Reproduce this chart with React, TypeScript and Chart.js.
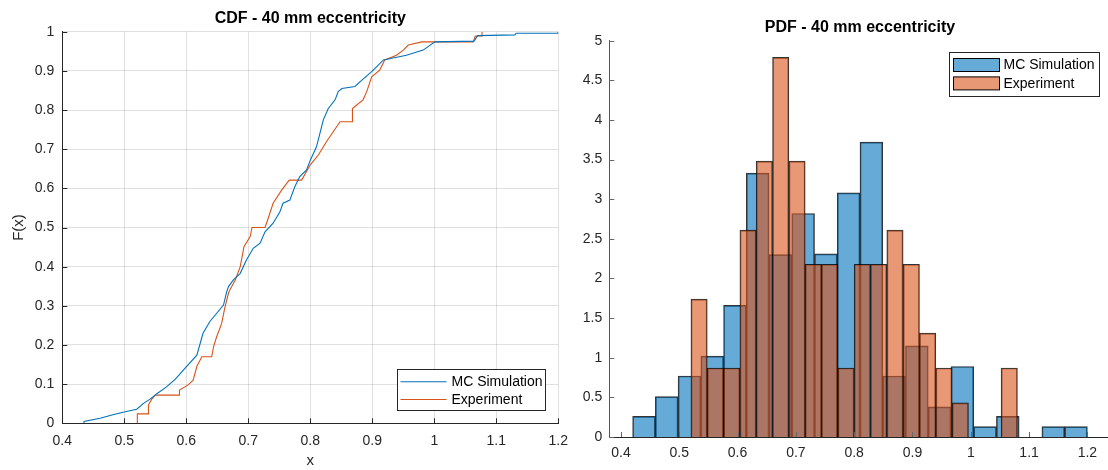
import { useEffect, useRef } from "react";
import { Chart, registerables } from "chart.js";
Chart.register(...registerables);

const FONT = "'Liberation Sans', Arial, Helvetica, sans-serif";
const BLUE = "#0072BD";
const ORANGE = "#D95319";

// ---- CDF (left) : points ----
const mcCdfX = [0.435, 0.435, 0.461, 0.48, 0.498, 0.52, 0.531, 0.541, 0.552, 0.568, 0.582, 0.601, 0.617, 0.627, 0.638, 0.649, 0.66, 0.665, 0.668, 0.676, 0.687, 0.697, 0.708, 0.719, 0.727, 0.74, 0.751, 0.756, 0.767, 0.775, 0.783, 0.794, 0.8, 0.81, 0.821, 0.829, 0.84, 0.845, 0.851, 0.872, 0.88, 0.899, 0.918, 0.955, 0.982, 1.001, 1.064, 1.07, 1.13, 1.132, 1.199, 1.2];
const mcCdfF = [0, 0.005, 0.013, 0.021, 0.028, 0.036, 0.051, 0.061, 0.075, 0.093, 0.112, 0.146, 0.174, 0.23, 0.26, 0.281, 0.302, 0.335, 0.349, 0.366, 0.383, 0.417, 0.447, 0.46, 0.489, 0.511, 0.54, 0.562, 0.57, 0.604, 0.63, 0.647, 0.672, 0.706, 0.775, 0.804, 0.826, 0.847, 0.855, 0.86, 0.872, 0.898, 0.928, 0.94, 0.953, 0.974, 0.976, 0.99, 0.992, 0.996, 0.996, 1.0];
const expCdfX = [0.521, 0.521, 0.539, 0.539, 0.544, 0.55, 0.589, 0.589, 0.603, 0.611, 0.617, 0.625, 0.641, 0.644, 0.649, 0.657, 0.662, 0.668, 0.67, 0.679, 0.687, 0.693, 0.703, 0.706, 0.727, 0.732, 0.74, 0.754, 0.766, 0.786, 0.8, 0.813, 0.826, 0.848, 0.868, 0.868, 0.885, 0.891, 0.899, 0.912, 0.92, 0.939, 0.95, 0.958, 0.98, 1.063, 1.066, 1.077, 1.077];
const expCdfF = [0, 0.024, 0.024, 0.047, 0.061, 0.072, 0.072, 0.085, 0.098, 0.11, 0.145, 0.17, 0.17, 0.196, 0.221, 0.255, 0.294, 0.332, 0.34, 0.366, 0.4, 0.451, 0.477, 0.5, 0.5, 0.523, 0.562, 0.596, 0.621, 0.621, 0.66, 0.685, 0.719, 0.77, 0.77, 0.804, 0.826, 0.847, 0.885, 0.902, 0.928, 0.94, 0.953, 0.966, 0.974, 0.974, 0.989, 0.989, 1.0];

// ---- PDF (right) : histogram bin edges and heights ----
const mcBinEdges = [0.42, 0.459, 0.498, 0.537, 0.576, 0.615, 0.654, 0.693, 0.732, 0.771, 0.81, 0.849, 0.888, 0.927, 0.966, 1.005, 1.044, 1.083, 1.122, 1.161, 1.2];
const mcPdf = [0.26, 0.51, 0.77, 1.02, 1.66, 3.33, 2.3, 2.82, 2.31, 3.08, 3.72, 0.77, 1.15, 0.38, 0.89, 0.13, 0.26, 0, 0.13, 0.13];
const expBinEdges = [0.52, 0.548, 0.576, 0.604, 0.632, 0.66, 0.688, 0.716, 0.744, 0.772, 0.8, 0.828, 0.856, 0.884, 0.912, 0.94, 0.968, 0.996, 1.024, 1.052, 1.08];
const expPdf = [1.74, 0.87, 0.87, 2.61, 3.48, 4.79, 3.48, 2.18, 2.18, 0.87, 2.18, 2.18, 2.61, 2.18, 1.31, 0.87, 0.43, 0, 0, 0.87];

const seriesNames = ["MC Simulation", "Experiment"];

const fmt = (v: number | string) => String(Math.round(Number(v) * 10) / 10);

function innerTicks(len: number, xColor: string, yColor: string) {
  return {
    id: "innerTicks",
    afterDatasetsDraw(chart: any) {
      const { ctx, chartArea } = chart;
      ctx.save();
      ctx.lineWidth = 1;
      const xs = chart.scales.x;
      ctx.strokeStyle = xColor;
      xs.ticks.forEach((_: any, i: number) => {
        const p = Math.round(xs.getPixelForTick(i)) + 0.5;
        ctx.beginPath();
        ctx.moveTo(p, chartArea.bottom);
        ctx.lineTo(p, chartArea.bottom - len);
        ctx.stroke();
      });
      const ys = chart.scales.y;
      ctx.strokeStyle = yColor;
      ys.ticks.forEach((_: any, i: number) => {
        const p = Math.round(ys.getPixelForTick(i)) + 0.5;
        ctx.beginPath();
        ctx.moveTo(chartArea.left, p);
        ctx.lineTo(chartArea.left + len, p);
        ctx.stroke();
      });
      ctx.restore();
    },
  };
}

const cdfLegend = {
  id: "cdfLegend",
  afterDraw(chart: any) {
    const { ctx, chartArea } = chart;
    const w = 148, h = 41;
    const x0 = Math.round(chartArea.right - 13 - w) + 0.5;
    const y0 = Math.round(chartArea.bottom - 13 - h) + 0.5;
    ctx.save();
    ctx.fillStyle = "#fff";
    ctx.fillRect(x0, y0, w, h);
    ctx.strokeStyle = "#262626";
    ctx.lineWidth = 1;
    ctx.strokeRect(x0, y0, w, h);
    const colors = [BLUE, ORANGE];
    ctx.font = `14px ${FONT}`;
    ctx.textBaseline = "middle";
    seriesNames.forEach((name, i) => {
      const yy = y0 + 12.3 + i * 17.7;
      ctx.strokeStyle = colors[i];
      ctx.lineWidth = 1.1;
      ctx.beginPath();
      ctx.moveTo(x0 + 3, yy);
      ctx.lineTo(x0 + 49, yy);
      ctx.stroke();
      ctx.fillStyle = "#000";
      ctx.fillText(name, x0 + 54, yy + 0.5);
    });
    ctx.restore();
  },
};

const pdfLegend = {
  id: "pdfLegend",
  afterDraw(chart: any) {
    const { ctx, chartArea } = chart;
    const w = 150, h = 44;
    const x0 = Math.round(chartArea.right - 11.5 - w) + 0.5;
    const y0 = Math.round(chartArea.top + 11.3) + 0.5;
    ctx.save();
    ctx.fillStyle = "#fff";
    ctx.fillRect(x0, y0, w, h);
    ctx.strokeStyle = "#262626";
    ctx.lineWidth = 1;
    ctx.strokeRect(x0, y0, w, h);
    const fills = ["rgba(0,114,189,0.6)", "rgba(217,83,25,0.6)"];
    ctx.font = `14px ${FONT}`;
    ctx.textBaseline = "middle";
    seriesNames.forEach((name, i) => {
      const py = y0 + 6 + i * 18.4;
      ctx.fillStyle = fills[i];
      ctx.fillRect(x0 + 4, py, 46, 13);
      ctx.strokeStyle = "#000";
      ctx.strokeRect(x0 + 4, py, 46, 13);
      ctx.fillStyle = "#000";
      ctx.fillText(name, x0 + 54, py + 7);
    });
    ctx.restore();
  },
};

function centers(edges: number[]) {
  return edges.slice(0, -1).map((e, i) => (e + edges[i + 1]) / 2);
}

export default function App() {
  const leftRef = useRef<HTMLCanvasElement>(null);
  const rightRef = useRef<HTMLCanvasElement>(null);

  useEffect(() => {
    const left = new Chart(leftRef.current as HTMLCanvasElement, {
      type: "line",
      data: {
        datasets: [
          {
            label: seriesNames[0],
            data: mcCdfX.map((x, i) => ({ x, y: mcCdfF[i] })),
            borderColor: BLUE,
            borderWidth: 1.1,
            pointRadius: 0,
            tension: 0,
          },
          {
            label: seriesNames[1],
            data: expCdfX.map((x, i) => ({ x, y: expCdfF[i] })),
            borderColor: ORANGE,
            borderWidth: 1.1,
            pointRadius: 0,
            tension: 0,
          },
        ],
      },
      options: {
        responsive: false,
        animation: false,
        events: [],
        layout: { padding: { left: 0, right: 21.7, top: 0, bottom: 0 } },
        plugins: {
          legend: { display: false },
          tooltip: { enabled: false },
          title: {
            display: true,
            text: "CDF - 40 mm eccentricity",
            fullSize: false,
            color: "#000",
            font: { family: FONT, size: 16, weight: "bold" },
            padding: { top: 9, bottom: 3.5 },
          },
        },
        scales: {
          x: {
            type: "linear",
            min: 0.4,
            max: 1.2,
            ticks: { stepSize: 0.1, callback: fmt, color: "#262626", font: { family: FONT, size: 14 }, padding: 9.5, maxRotation: 0 },
            grid: { color: "rgba(0,0,0,0.12)", drawTicks: false },
            border: { display: true, color: "#262626", width: 1 },
            title: { display: true, text: "x", color: "#262626", font: { family: FONT, size: 15 }, padding: { top: 0, bottom: 0 } },
            afterFit: (s: any) => { s.height = 46.7; },
          },
          y: {
            type: "linear",
            min: 0,
            max: 1,
            ticks: { stepSize: 0.1, callback: fmt, color: "#262626", font: { family: FONT, size: 14 }, padding: 8 },
            grid: { color: "rgba(0,0,0,0.12)", drawTicks: false },
            border: { display: true, color: "#262626", width: 1 },
            title: { display: true, text: "F(x)", color: "#262626", font: { family: FONT, size: 15 }, padding: { top: 9.5, bottom: 0 } },
            afterFit: (s: any) => { s.width = 62.3; },
          },
        },
      },
      plugins: [innerTicks(5, "#262626", "#262626"), cdfLegend],
    } as any);

    const mcC = centers(mcBinEdges);
    const exC = centers(expBinEdges);
    const right = new Chart(rightRef.current as HTMLCanvasElement, {
      type: "bar",
      data: {
        datasets: [
          {
            label: seriesNames[0],
            data: mcC.map((x, i) => ({ x, y: mcPdf[i] || null })),
            backgroundColor: "rgba(0,114,189,0.6)",
            borderColor: "rgba(0,0,0,0.8)",
            borderWidth: 1,
            xAxisID: "x",
            order: 1,
            grouped: false,
            barPercentage: 1,
            categoryPercentage: 1,
          },
          {
            label: seriesNames[1],
            data: exC.map((x, i) => ({ x, y: expPdf[i] || null })),
            backgroundColor: "rgba(217,83,25,0.6)",
            borderColor: "rgba(0,0,0,0.8)",
            borderWidth: 1,
            xAxisID: "x2",
            order: 0,
            grouped: false,
            barPercentage: 1,
            categoryPercentage: 1,
          },
        ],
      },
      options: {
        responsive: false,
        animation: false,
        events: [],
        layout: { padding: { left: 0, right: 14.3, top: 0, bottom: 0 } },
        plugins: {
          legend: { display: false },
          tooltip: { enabled: false },
          title: {
            display: true,
            text: "PDF - 40 mm eccentricity",
            fullSize: false,
            color: "#000",
            font: { family: FONT, size: 16, weight: "bold" },
            padding: { top: 17.8, bottom: 3.7 },
          },
        },
        scales: {
          x: {
            type: "linear",
            min: 0.38,
            max: 1.24,
            offset: false,
            ticks: { stepSize: 0.1, includeBounds: false, callback: fmt, color: "#262626", font: { family: FONT, size: 14 }, padding: 7.5, maxRotation: 0 },
            grid: { display: false, drawTicks: false },
            border: { display: true, color: "#262626", width: 1 },
            afterFit: (s: any) => { s.height = 33; },
          },
          x2: {
            type: "linear",
            position: "bottom",
            min: 0.38,
            max: 1.24,
            offset: false,
            display: false,
            ticks: { stepSize: 0.1, includeBounds: false },
          },
          y: {
            type: "linear",
            min: 0,
            max: 5,
            ticks: { stepSize: 0.5, callback: fmt, color: "#262626", font: { family: FONT, size: 14 }, padding: 7 },
            grid: { display: false, drawTicks: false },
            border: { display: true, color: "#555", width: 1 },
            afterFit: (s: any) => { s.width = 44.3; },
          },
        },
      },
      plugins: [innerTicks(5, "#666", "#666"), pdfLegend],
    } as any);

    return () => {
      left.destroy();
      right.destroy();
    };
  }, []);

  return (
    <div style={{ position: "fixed", left: 0, top: 0, width: 1108, height: 470, overflow: "hidden", background: "#fff" }}>
      <canvas ref={leftRef} width={580} height={470} style={{ position: "absolute", left: 0, top: 0, width: 580, height: 470 }} />
      <canvas ref={rightRef} width={560} height={470} style={{ position: "absolute", left: 565, top: 0, width: 560, height: 470 }} />
    </div>
  );
}
